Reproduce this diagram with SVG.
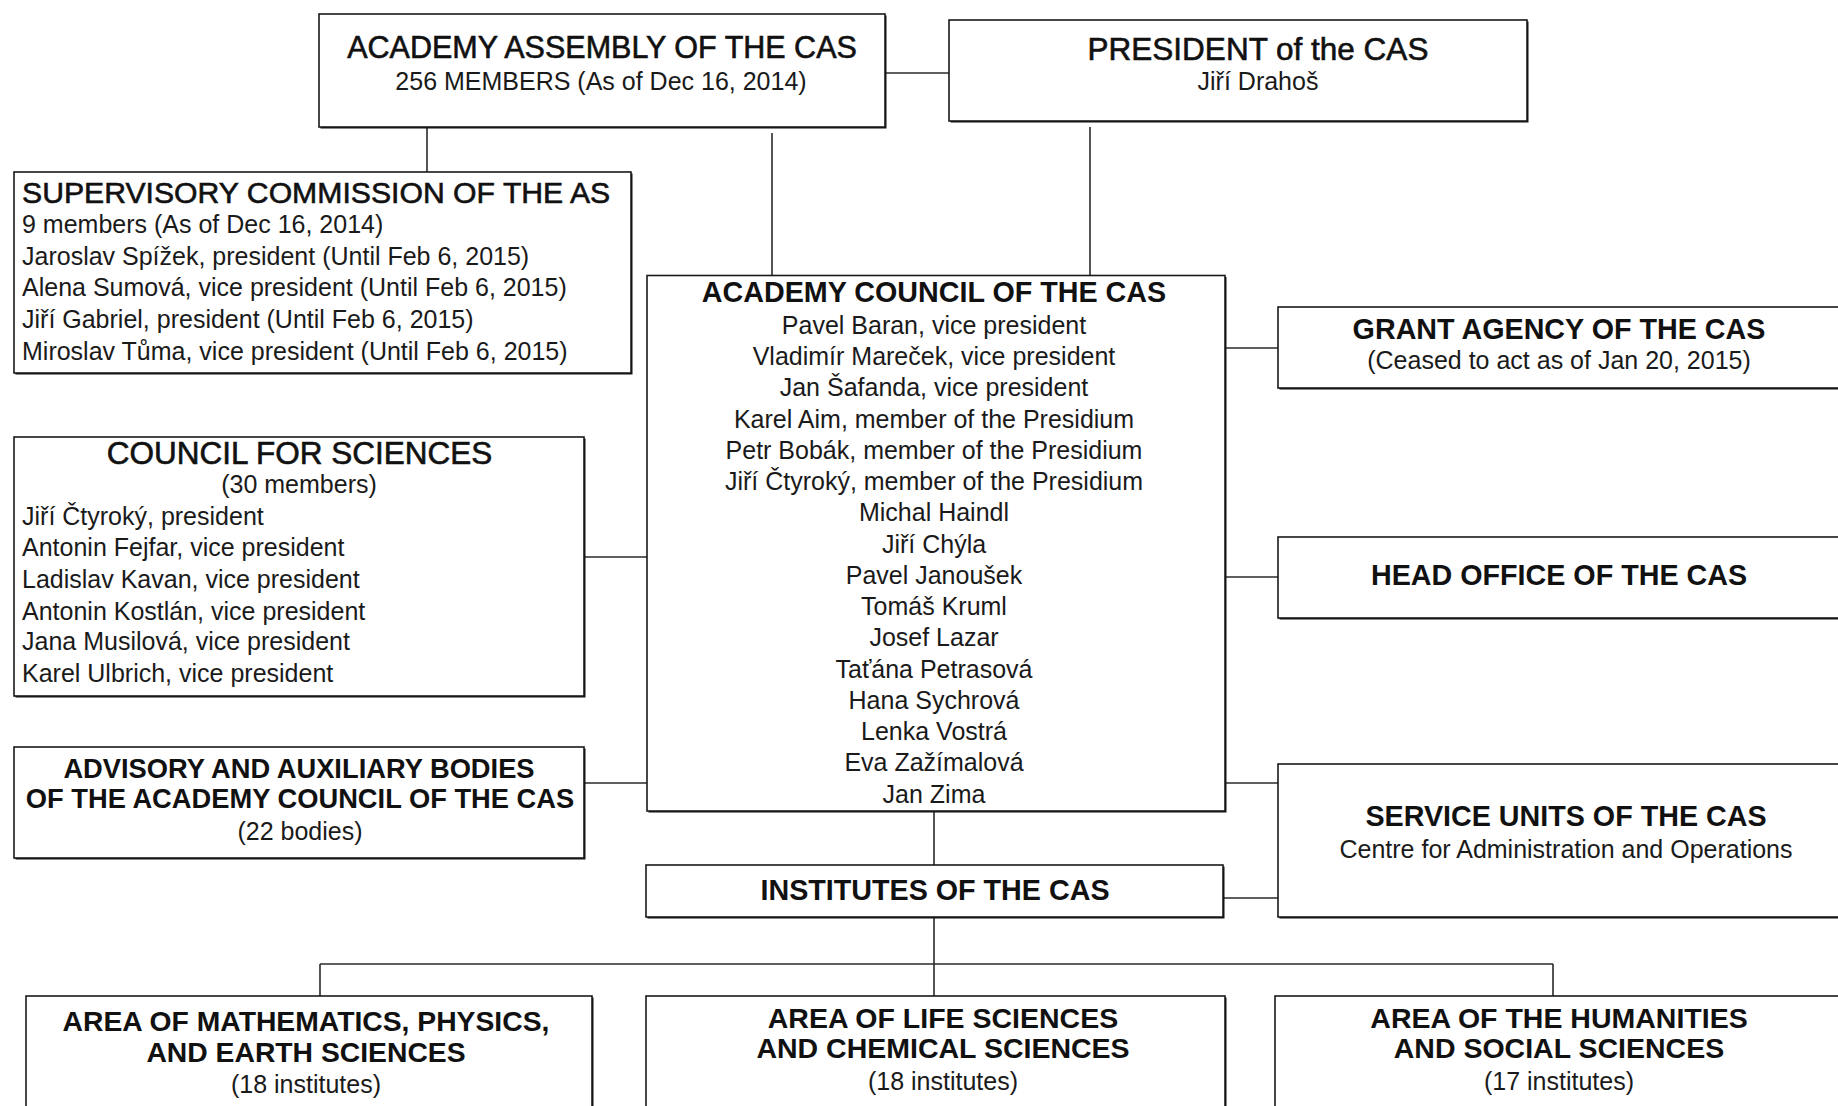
<svg xmlns="http://www.w3.org/2000/svg" width="1838" height="1106" viewBox="0 0 1838 1106">
<style>
.bg{fill:#ffffff}
.sh{fill:#111111}
.box{fill:#ffffff;stroke:#1a1a1a;stroke-width:1.6}
.ln{stroke:#2a2a2a;stroke-width:1.6;fill:none}
text{font-family:"Liberation Sans",Arial,sans-serif;fill:#111111}
.tb{font-weight:bold;font-size:28.7px;text-anchor:middle}
.tm{font-size:30.5px;stroke:#111111;stroke-width:0.6;text-anchor:middle}
.t{font-size:25px;fill:#1a1a1a}
.c{text-anchor:middle}
</style>
<rect class="bg" x="0" y="0" width="1838" height="1106"/>

<g id="connectors">
  <line class="ln" x1="885" y1="73" x2="949" y2="73"/>
  <line class="ln" x1="427" y1="127" x2="427" y2="172"/>
  <line class="ln" x1="772" y1="133" x2="772" y2="275"/>
  <line class="ln" x1="1090" y1="127" x2="1090" y2="275"/>
  <line class="ln" x1="1225" y1="348" x2="1278" y2="348"/>
  <line class="ln" x1="1225" y1="577" x2="1278" y2="577"/>
  <line class="ln" x1="1225" y1="783" x2="1278" y2="783"/>
  <line class="ln" x1="1223" y1="898" x2="1278" y2="898"/>
  <line class="ln" x1="584" y1="557" x2="647" y2="557"/>
  <line class="ln" x1="584" y1="783" x2="647" y2="783"/>
  <line class="ln" x1="934" y1="811" x2="934" y2="865"/>
  <line class="ln" x1="934" y1="917" x2="934" y2="996"/>
  <line class="ln" x1="320" y1="964" x2="1553" y2="964"/>
  <line class="ln" x1="320" y1="964" x2="320" y2="996"/>
  <line class="ln" x1="1553" y1="964" x2="1553" y2="996"/>
</g>

<g id="assembly">
  <rect class="sh" x="320.5" y="15.5" width="566" height="113"/>
  <rect class="box" x="319" y="14" width="566" height="113"/>
  <text class="tm" x="602" y="57.5">ACADEMY ASSEMBLY OF THE CAS</text>
  <text class="t c" x="601" y="90">256 MEMBERS (As of Dec 16, 2014)</text>
</g>

<g id="president">
  <rect class="sh" x="950.5" y="21.5" width="578" height="101"/>
  <rect class="box" x="949" y="20" width="578" height="101"/>
  <text class="tm" x="1258" y="59.5" style="font-size:31.5px">PRESIDENT of the CAS</text>
  <text class="t c" x="1258" y="90">Jiří Drahoš</text>
</g>

<g id="supervisory">
  <rect class="sh" x="15.5" y="173.5" width="617" height="201"/>
  <rect class="box" x="14" y="172" width="617" height="201"/>
  <text class="tm" x="22" y="203" style="text-anchor:start;font-size:30.2px">SUPERVISORY COMMISSION OF THE AS</text>
  <text class="t" x="22" y="233">9 members (As of Dec 16, 2014)</text>
  <text class="t" x="22" y="264.5">Jaroslav Spížek, president (Until Feb 6, 2015)</text>
  <text class="t" x="22" y="296">Alena Sumová, vice president (Until Feb 6, 2015)</text>
  <text class="t" x="22" y="328">Jiří Gabriel, president (Until Feb 6, 2015)</text>
  <text class="t" x="22" y="359.5">Miroslav Tůma, vice president (Until Feb 6, 2015)</text>
</g>

<g id="council">
  <rect class="sh" x="648.5" y="277" width="578" height="535.5"/>
  <rect class="box" x="647" y="275.5" width="578" height="535.5"/>
  <text class="tb" x="934" y="302">ACADEMY COUNCIL OF THE CAS</text>
  <text class="t c" x="934" y="333.7">Pavel Baran, vice president</text>
  <text class="t c" x="934" y="365">Vladimír Mareček, vice president</text>
  <text class="t c" x="934" y="396.2">Jan Šafanda, vice president</text>
  <text class="t c" x="934" y="427.5">Karel Aim, member of the Presidium</text>
  <text class="t c" x="934" y="458.7">Petr Bobák, member of the Presidium</text>
  <text class="t c" x="934" y="490">Jiří Čtyroký, member of the Presidium</text>
  <text class="t c" x="934" y="521.2">Michal Haindl</text>
  <text class="t c" x="934" y="552.5">Jiří Chýla</text>
  <text class="t c" x="934" y="583.7">Pavel Janoušek</text>
  <text class="t c" x="934" y="615">Tomáš Kruml</text>
  <text class="t c" x="934" y="646.2">Josef Lazar</text>
  <text class="t c" x="934" y="677.5">Taťána Petrasová</text>
  <text class="t c" x="934" y="708.7">Hana Sychrová</text>
  <text class="t c" x="934" y="740">Lenka Vostrá</text>
  <text class="t c" x="934" y="771.2">Eva Zažímalová</text>
  <text class="t c" x="934" y="802.5">Jan Zima</text>
</g>

<g id="grant">
  <rect class="sh" x="1279.5" y="308.5" width="600" height="81"/>
  <rect class="box" x="1278" y="307" width="600" height="81"/>
  <text class="tb" x="1559" y="338.5">GRANT AGENCY OF THE CAS</text>
  <text class="t c" x="1559" y="369">(Ceased to act as of Jan 20, 2015)</text>
</g>

<g id="headoffice">
  <rect class="sh" x="1279.5" y="538.5" width="600" height="81"/>
  <rect class="box" x="1278" y="537" width="600" height="81"/>
  <text class="tb" x="1559" y="584.7">HEAD OFFICE OF THE CAS</text>
</g>

<g id="service">
  <rect class="sh" x="1279.5" y="765.5" width="600" height="153"/>
  <rect class="box" x="1278" y="764" width="600" height="153"/>
  <text class="tb" x="1566" y="826">SERVICE UNITS OF THE CAS</text>
  <text class="t c" x="1566" y="857.7">Centre for Administration and Operations</text>
</g>

<g id="council-sciences">
  <rect class="sh" x="15.5" y="438.5" width="570" height="259"/>
  <rect class="box" x="14" y="437" width="570" height="259"/>
  <text class="tm" x="299.5" y="463.7" style="font-size:31.5px">COUNCIL FOR SCIENCES</text>
  <text class="t c" x="299" y="493">(30 members)</text>
  <text class="t" x="22" y="524.8">Jiří Čtyroký, president</text>
  <text class="t" x="22" y="556.4">Antonin Fejfar, vice president</text>
  <text class="t" x="22" y="588">Ladislav Kavan, vice president</text>
  <text class="t" x="22" y="619.7">Antonin Kostlán, vice president</text>
  <text class="t" x="22" y="650.2">Jana Musilová, vice president</text>
  <text class="t" x="22" y="682">Karel Ulbrich, vice president</text>
</g>

<g id="advisory">
  <rect class="sh" x="15.5" y="748.5" width="570" height="111"/>
  <rect class="box" x="14" y="747" width="570" height="111"/>
  <text class="tb" x="299" y="777.6" style="font-size:27.3px">ADVISORY AND AUXILIARY BODIES</text>
  <text class="tb" x="300" y="808" style="font-size:27.3px">OF THE ACADEMY COUNCIL OF THE CAS</text>
  <text class="t c" x="300" y="840">(22 bodies)</text>
</g>

<g id="institutes">
  <rect class="sh" x="647.5" y="866.5" width="577" height="52"/>
  <rect class="box" x="646" y="865" width="577" height="52"/>
  <text class="tb" x="935" y="900">INSTITUTES OF THE CAS</text>
</g>

<g id="area-math">
  <rect class="sh" x="27.5" y="997.5" width="566" height="130"/>
  <rect class="box" x="26" y="996" width="566" height="130"/>
  <text class="tb" x="306" y="1031" style="font-size:28.3px">AREA OF MATHEMATICS, PHYSICS,</text>
  <text class="tb" x="306" y="1061.5" style="font-size:28.3px">AND EARTH SCIENCES</text>
  <text class="t c" x="306" y="1093">(18 institutes)</text>
</g>

<g id="area-life">
  <rect class="sh" x="647.5" y="997.5" width="579" height="130"/>
  <rect class="box" x="646" y="996" width="579" height="130"/>
  <text class="tb" x="943" y="1027.5" style="font-size:28.5px">AREA OF LIFE SCIENCES</text>
  <text class="tb" x="943" y="1058" style="font-size:28.5px">AND CHEMICAL SCIENCES</text>
  <text class="t c" x="943" y="1090">(18 institutes)</text>
</g>

<g id="area-humanities">
  <rect class="sh" x="1276.5" y="997.5" width="600" height="130"/>
  <rect class="box" x="1275" y="996" width="600" height="130"/>
  <text class="tb" x="1559" y="1027.5" style="font-size:28.5px">AREA OF THE HUMANITIES</text>
  <text class="tb" x="1559" y="1058" style="font-size:28.5px">AND SOCIAL SCIENCES</text>
  <text class="t c" x="1559" y="1090">(17 institutes)</text>
</g>
</svg>
